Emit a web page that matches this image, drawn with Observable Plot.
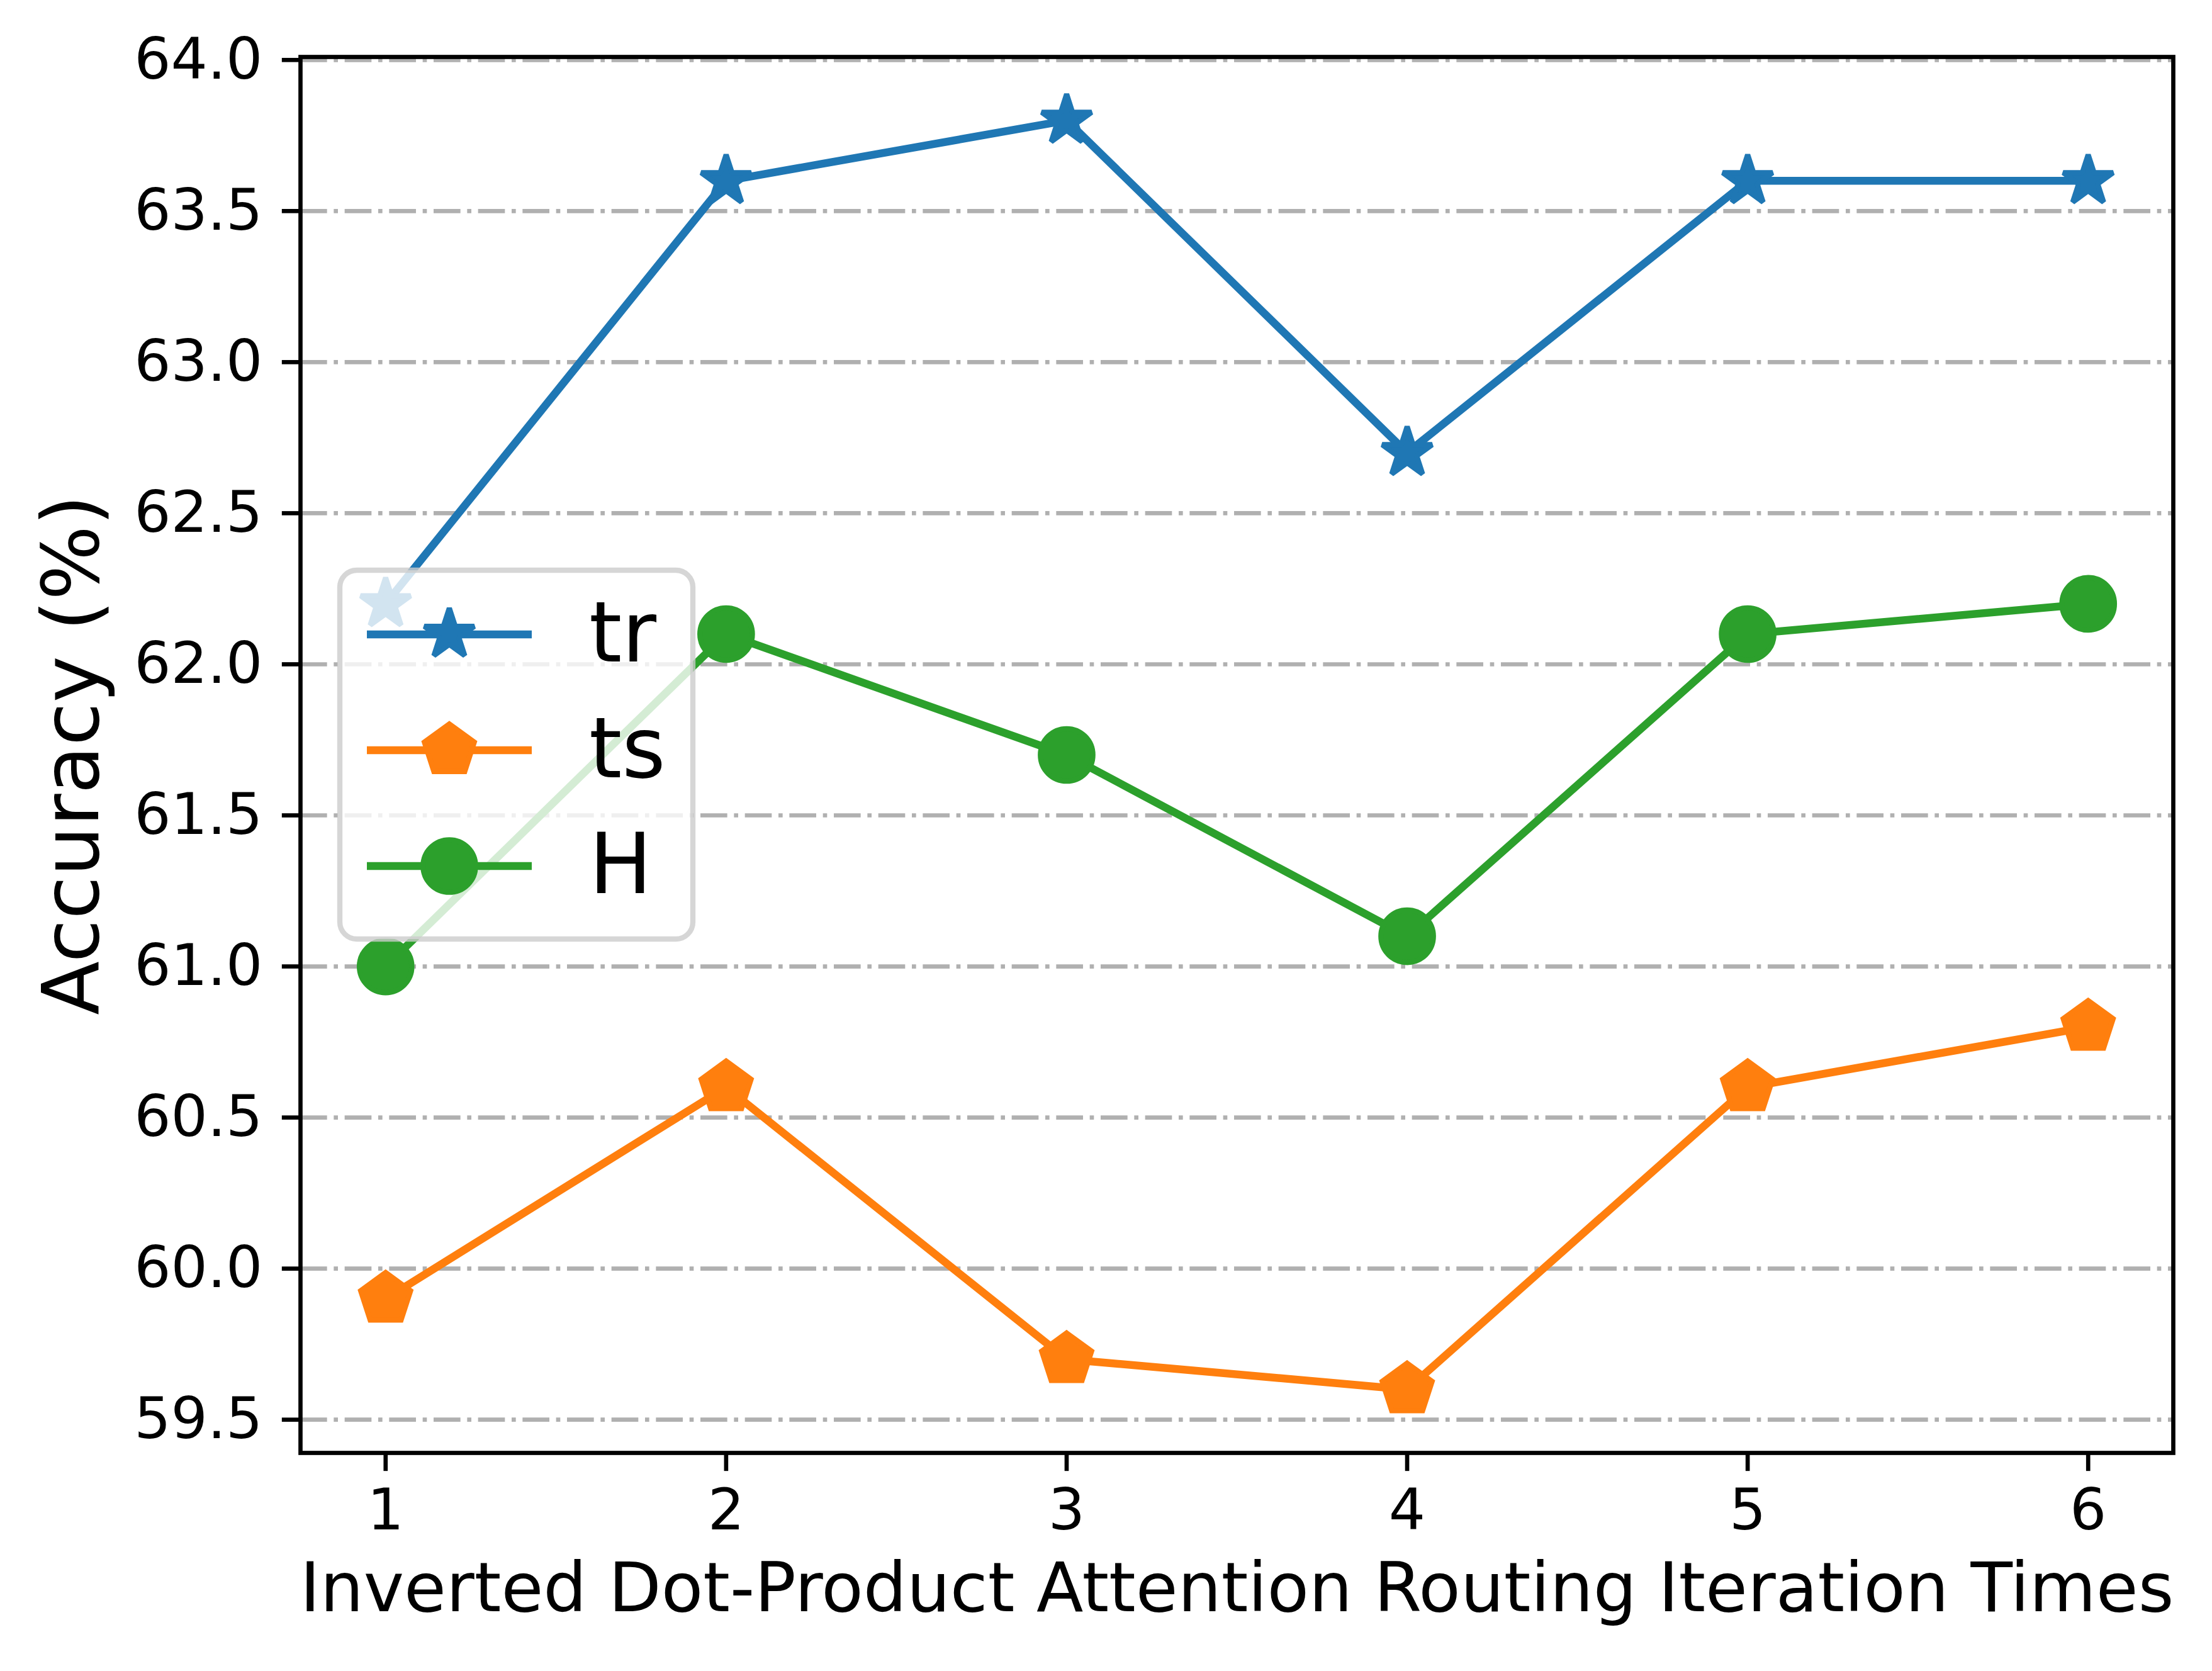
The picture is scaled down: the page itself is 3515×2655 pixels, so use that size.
<!DOCTYPE html>
<html>
<head>
<meta charset="utf-8">
<script src="https://cdn.jsdelivr.net/npm/d3@7"></script>
<script src="https://cdn.jsdelivr.net/npm/@observablehq/plot@0.6"></script>
<style>
  html, body { margin: 0; padding: 0; background: white; overflow: hidden; }
  svg { display: block; }
</style>
</head>
<body>
<div id="chart"></div>
<script>
// ---- data ----
const iterations = [1, 2, 3, 4, 5, 6];
const trValues = [62.2, 63.6, 63.8, 62.7, 63.6, 63.6];
const tsValues = [59.9, 60.6, 59.7, 59.6, 60.6, 60.8];
const hValues  = [61.0, 62.1, 61.7, 61.1, 62.1, 62.2];
const seriesNames = ["tr", "ts", "H"];
const seriesColors = ["#1f77b4", "#ff7f0e", "#2ca02c"];
const yTicks = [59.5, 60.0, 60.5, 61.0, 61.5, 62.0, 62.5, 63.0, 63.5, 64.0];
const xTicks = [1, 2, 3, 4, 5, 6];
const xLabel = "Inverted Dot-Product Attention Routing Iteration Times";
const yLabel = "Accuracy (%)";

// ---- custom marker shapes (outer radius = sqrt(size/π)) ----
const starSymbol = {
  draw(ctx, size) {
    const R = Math.sqrt(size / Math.PI), r = R * 0.381966;
    for (let i = 0; i < 10; i++) {
      const a = -Math.PI / 2 + i * Math.PI / 5;
      const rr = i % 2 === 0 ? R : r;
      const px = rr * Math.cos(a), py = rr * Math.sin(a);
      if (i === 0) ctx.moveTo(px, py); else ctx.lineTo(px, py);
    }
    ctx.closePath();
  }
};
const pentagonSymbol = {
  draw(ctx, size) {
    const R = Math.sqrt(size / Math.PI);
    for (let i = 0; i < 5; i++) {
      const a = -Math.PI / 2 + i * 2 * Math.PI / 5;
      const px = R * Math.cos(a), py = R * Math.sin(a);
      if (i === 0) ctx.moveTo(px, py); else ctx.lineTo(px, py);
    }
    ctx.closePath();
  }
};
const seriesSymbols = [starSymbol, pentagonSymbol, d3.symbolCircle];
const seriesJoins = ["bevel", "miter", "round"];

const rows = [];
[trValues, tsValues, hValues].forEach((vals, si) => {
  iterations.forEach((it, i) => rows.push({series: seriesNames[si], x: it, y: vals[i]}));
});

// ---- sizes (px, 600 dpi equivalents) ----
const W = 3515, H = 2655;
const PT = 600 / 72;
const markerR = 5 * PT;        // markersize 10pt
const lineW = 1.5 * PT;
const edgeW = 1.0 * PT;
const axisW = 0.8 * PT;
const tickLen = 3.5 * PT;

const marks = [
  Plot.ruleY(yTicks, {stroke: "#b0b0b0", strokeWidth: axisW,
    strokeDasharray: [6.4 * axisW, 1.6 * axisW, 1 * axisW, 1.6 * axisW].join(",")}),
];
seriesNames.forEach((name, si) => {
  const data = rows.filter(d => d.series === name);
  marks.push(Plot.line(data, {x: "x", y: "y", stroke: seriesColors[si], strokeWidth: lineW,
    strokeLinejoin: "round", strokeLinecap: "square"}));
  marks.push(Plot.dot(data, {x: "x", y: "y", r: markerR, symbol: seriesSymbols[si],
    fill: seriesColors[si], stroke: seriesColors[si], strokeWidth: edgeW,
    strokeLinejoin: seriesJoins[si]}));
});
marks.push(
  Plot.axisY(yTicks, {tickSize: tickLen, tickPadding: 31, fontSize: 91.7, strokeWidth: axisW,
    tickFormat: d3.format(".1f"), label: null}),
  Plot.axisX(xTicks, {tickSize: tickLen, tickPadding: 27, fontSize: 91.7, strokeWidth: axisW,
    tickFormat: d3.format("d"), label: null}),
  Plot.text([xLabel], {frameAnchor: "bottom", dy: 217, text: d => d, fontSize: 108.8,
    textAnchor: "middle", lineAnchor: "middle", fill: "black"}),
  Plot.text([yLabel], {frameAnchor: "left", dx: -362, text: d => d, fontSize: 125,
    rotate: -90, textAnchor: "middle", lineAnchor: "middle", fill: "black"}),
  Plot.frame({stroke: "black", strokeWidth: axisW})
);

const chart = Plot.plot({
  width: W, height: H,
  marginLeft: 477, marginRight: 62, marginTop: 90, marginBottom: 347,
  x: {domain: [0.75, 6.25], axis: null},
  y: {domain: [59.39, 64.01], axis: null},
  style: {fontFamily: "DejaVu Sans", background: "white", color: "black", overflow: "visible"},
  marks
});
document.getElementById("chart").appendChild(chart);

// ---- legend overlay (matplotlib-style, inside the axes) ----
const svg = d3.select(chart);
const lg = svg.append("g").attr("font-family", "DejaVu Sans").attr("text-anchor", "start");
lg.append("rect")
  .attr("x", 540).attr("y", 906).attr("width", 561).attr("height", 586)
  .attr("rx", 27).attr("ry", 27)
  .attr("fill", "white").attr("fill-opacity", 0.8)
  .attr("stroke", "#cccccc").attr("stroke-opacity", 0.8).attr("stroke-width", edgeW);
const rowY = [1008, 1192, 1376];
seriesNames.forEach((name, si) => {
  const y = rowY[si];
  lg.append("line").attr("x1", 583).attr("x2", 845).attr("y1", y).attr("y2", y)
    .attr("stroke", seriesColors[si]).attr("stroke-width", lineW);
  lg.append("path")
    .attr("d", d3.symbol(seriesSymbols[si], markerR * markerR * Math.PI)())
    .attr("transform", `translate(714,${y})`)
    .attr("fill", seriesColors[si]).attr("stroke", seriesColors[si])
    .attr("stroke-width", edgeW).attr("stroke-linejoin", seriesJoins[si]);
  lg.append("text").attr("x", 936).attr("y", y).attr("dy", "0.32em")
    .attr("text-anchor", "start")
    .attr("font-size", 133.3).attr("fill", "black").text(name);
});
</script>
</body>
</html>
